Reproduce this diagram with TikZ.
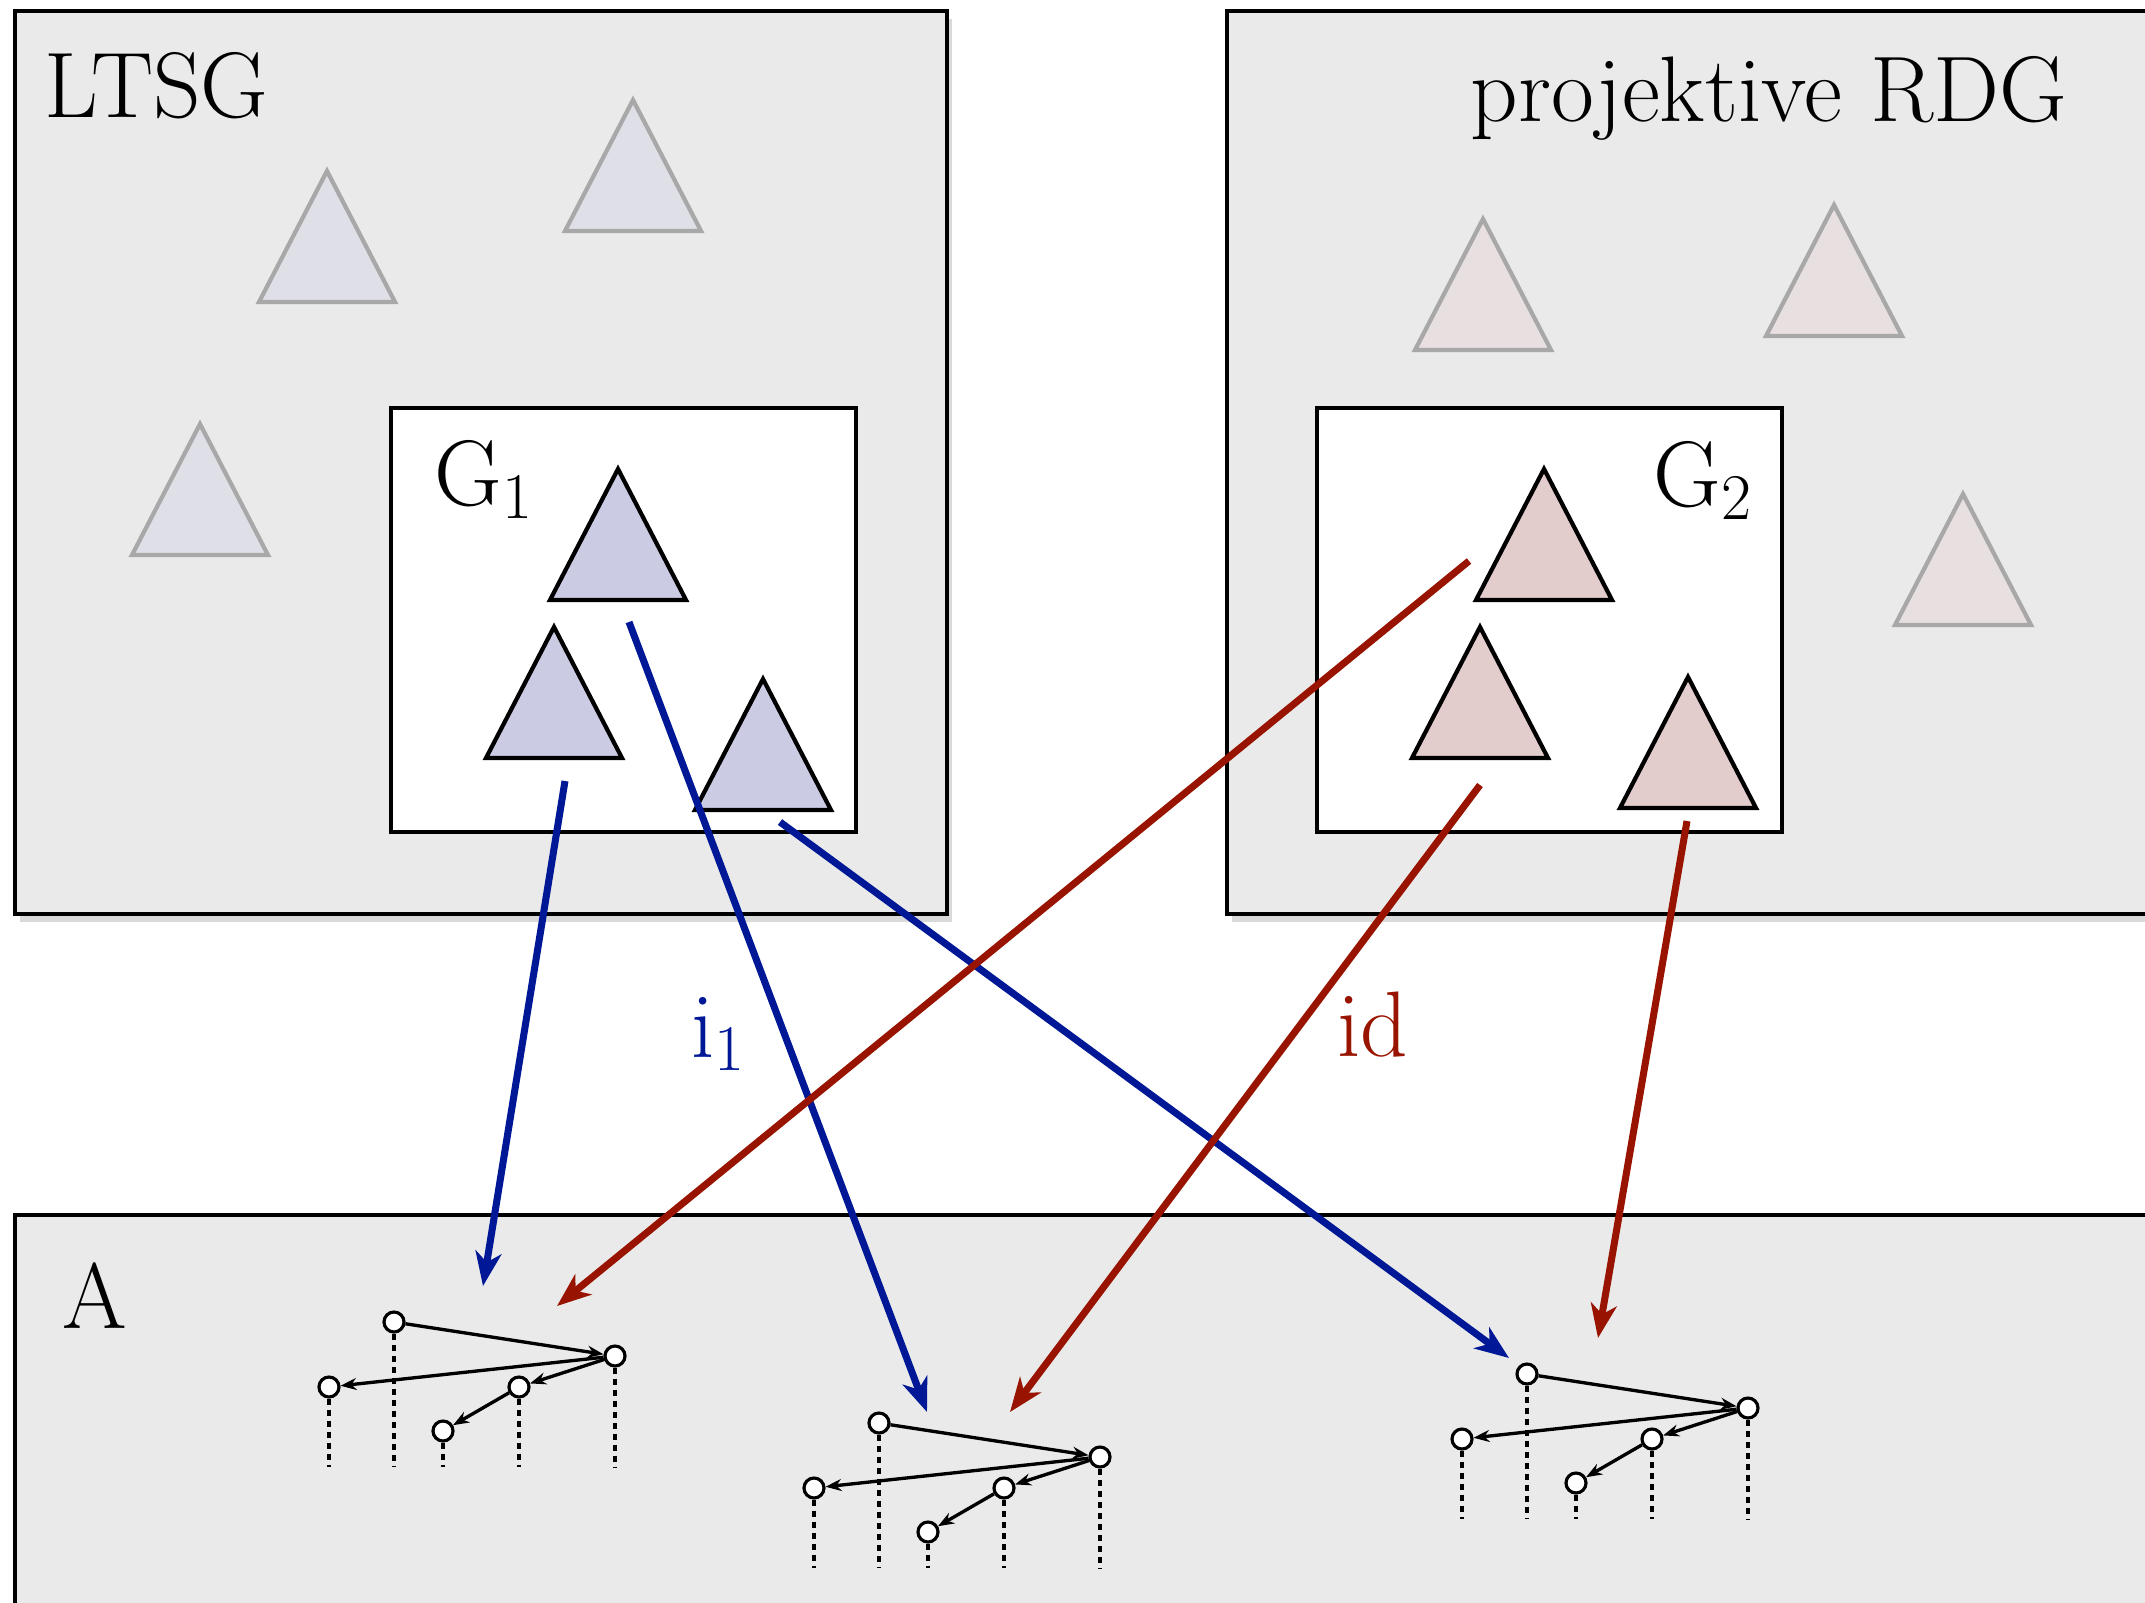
\documentclass[tikz,border=0pt]{standalone}
\usepackage{fontspec}
\usepackage{tikz}
\usetikzlibrary{positioning}
\usetikzlibrary{calc}
\usetikzlibrary{arrows.meta}
\usetikzlibrary{shadows}

\definecolor{panelgray}{RGB}{234,234,234}
\definecolor{faintblue}{RGB}{223,223,232}
\definecolor{faintred}{RGB}{232,224,224}
\definecolor{triblue}{RGB}{203,203,228}
\definecolor{trired}{RGB}{227,204,204}
\definecolor{edgegray}{RGB}{168,168,168}
\definecolor{mapblue}{RGB}{0,24,150}
\definecolor{mapred}{RGB}{152,20,0}

\begin{document}
\begin{tikzpicture}[x=0.1mm, y=-0.1mm, font=\fontsize{26.5}{31}\selectfont,
    panel/.style={draw=black, line width=1.3pt, fill=panelgray,
      drop shadow={opacity=0.3, shadow xshift=0.5mm, shadow yshift=-0.8mm}},
    subbox/.style={draw=black, line width=1.3pt, fill=white},
    faintbluetri/.style={draw=edgegray, line width=1.2pt, fill=faintblue},
    faintredtri/.style={draw=edgegray, line width=1.2pt, fill=faintred},
    bluetri/.style={draw=black, line width=1.2pt, fill=triblue},
    redtri/.style={draw=black, line width=1.2pt, fill=trired},
    bluemap/.style={draw=mapblue, line width=2pt, -{Stealth[length=3.4mm, width=2.6mm, inset=1mm]}},
    redmap/.style={draw=mapred, line width=2pt, -{Stealth[length=3.4mm, width=2.6mm, inset=1mm]}},
    vertex/.style={circle, draw=black, fill=white, line width=0.9pt, minimum size=2mm, inner sep=0pt},
    depedge/.style={line width=0.95pt, -{Stealth[length=1.6mm, width=1.2mm]}},
    leg/.style={line width=1pt, dash pattern=on 0.6mm off 0.5mm},
    label/.style={inner sep=0pt, anchor=base west}]

        \useasboundingbox (0,0) rectangle (2145,1603);
        \clip (0,0) rectangle (2145,1603);

        % Triangle half width and height
        \def\hw{68}
        \def\ht{131}

        % Outer panels
        \draw[panel] (15,11) rectangle (947,914);
        \draw[panel] (1227,11) rectangle (2180,914);
        \draw[panel] (15,1215) rectangle (2180,1650);

        % Boxes for the two grammars
        \draw[subbox] (391,408) rectangle (856,832);
        \draw[subbox] (1317,408) rectangle (1782,832);

        % Panel and box labels
        \node[label] (ltsg) at (44,117) {LTSG};
        \node[label] (rdg) at (1470,121) {projektive RDG};
        \node[label] (aset) at (62,1328) {A};
        \node[label] (gone) at (434,505) {G\textsubscript{1}};
        \node[label] (gtwo) at (1653,506) {G\textsubscript{2}};

        % Triangles outside the boxes
        \foreach \n/\x/\y in {t1/327/171, t2/633/100, t3/200/424} {
          \draw[faintbluetri] (\x,\y) coordinate (\n) -- ++(\hw,\ht) -- ++(-2*\hw,0) -- cycle;
        }
        \foreach \n/\x/\y in {t4/1483/219, t5/1834/205, t6/1963/494} {
          \draw[faintredtri] (\x,\y) coordinate (\n) -- ++(\hw,\ht) -- ++(-2*\hw,0) -- cycle;
        }

        % Triangles of G1 and G2
        \foreach \n/\x/\y in {ga/618/469, gb/554/627, gc/763/679} {
          \draw[bluetri] (\x,\y) coordinate (\n) -- ++(\hw,\ht) -- ++(-2*\hw,0) -- cycle;
        }
        \foreach \n/\x/\y in {ha/1544/469, hb/1480/627, hc/1688/677} {
          \draw[redtri] (\x,\y) coordinate (\n) -- ++(\hw,\ht) -- ++(-2*\hw,0) -- cycle;
        }

        % Dependency trees in A
        \foreach \k/\x/\y in {1/394/1322, 2/879/1423, 3/1527/1374} {
          \node[vertex] (r\k) at (\x,\y) {};
          \node[vertex] (q\k) at (\x+221,\y+34) {};
          \node[vertex] (l\k) at (\x-65,\y+65) {};
          \node[vertex] (m\k) at (\x+125,\y+65) {};
          \node[vertex] (u\k) at (\x+49,\y+109) {};
          \coordinate (e\k) at (\x,\y+145);

          % Dotted projections
          \foreach \v in {r,q,l,m,u} {
            \draw[leg] (\v\k.south) -- (\v\k |- e\k);
          }

          \draw[depedge] (r\k) -- (q\k);
          \draw[depedge] (q\k) -- (l\k);
          \draw[depedge] (q\k) -- (m\k);
          \draw[depedge] (m\k) -- (u\k);
        }

        % Start and end points of the mappings
        \coordinate (bs1) at (565,781);
        \coordinate (bs2) at (629,622);
        \coordinate (bs3) at (780,822);
        \coordinate (rs1) at (1469,561);
        \coordinate (rs2) at (1480,785);
        \coordinate (rs3) at (1687,821);
        \coordinate (be1) at (483,1286);
        \coordinate (be2) at (927,1412);
        \coordinate (be3) at (1509,1358);
        \coordinate (re1) at (557,1306);
        \coordinate (re2) at (1010,1412);
        \coordinate (re3) at (1598,1338);

        % Mapping i1
        \foreach \k in {1,2,3} {
          \draw[bluemap] (bs\k) -- (be\k);
        }

        % Mapping id
        \foreach \k in {1,2,3} {
          \draw[redmap] (rs\k) -- (re\k);
        }

        \node[label, text=mapblue] (ione) at (691,1057) {i\textsubscript{1}};
        \node[label, text=mapred] (idmap) at (1337,1056) {id};

      \end{tikzpicture}
\end{document}
